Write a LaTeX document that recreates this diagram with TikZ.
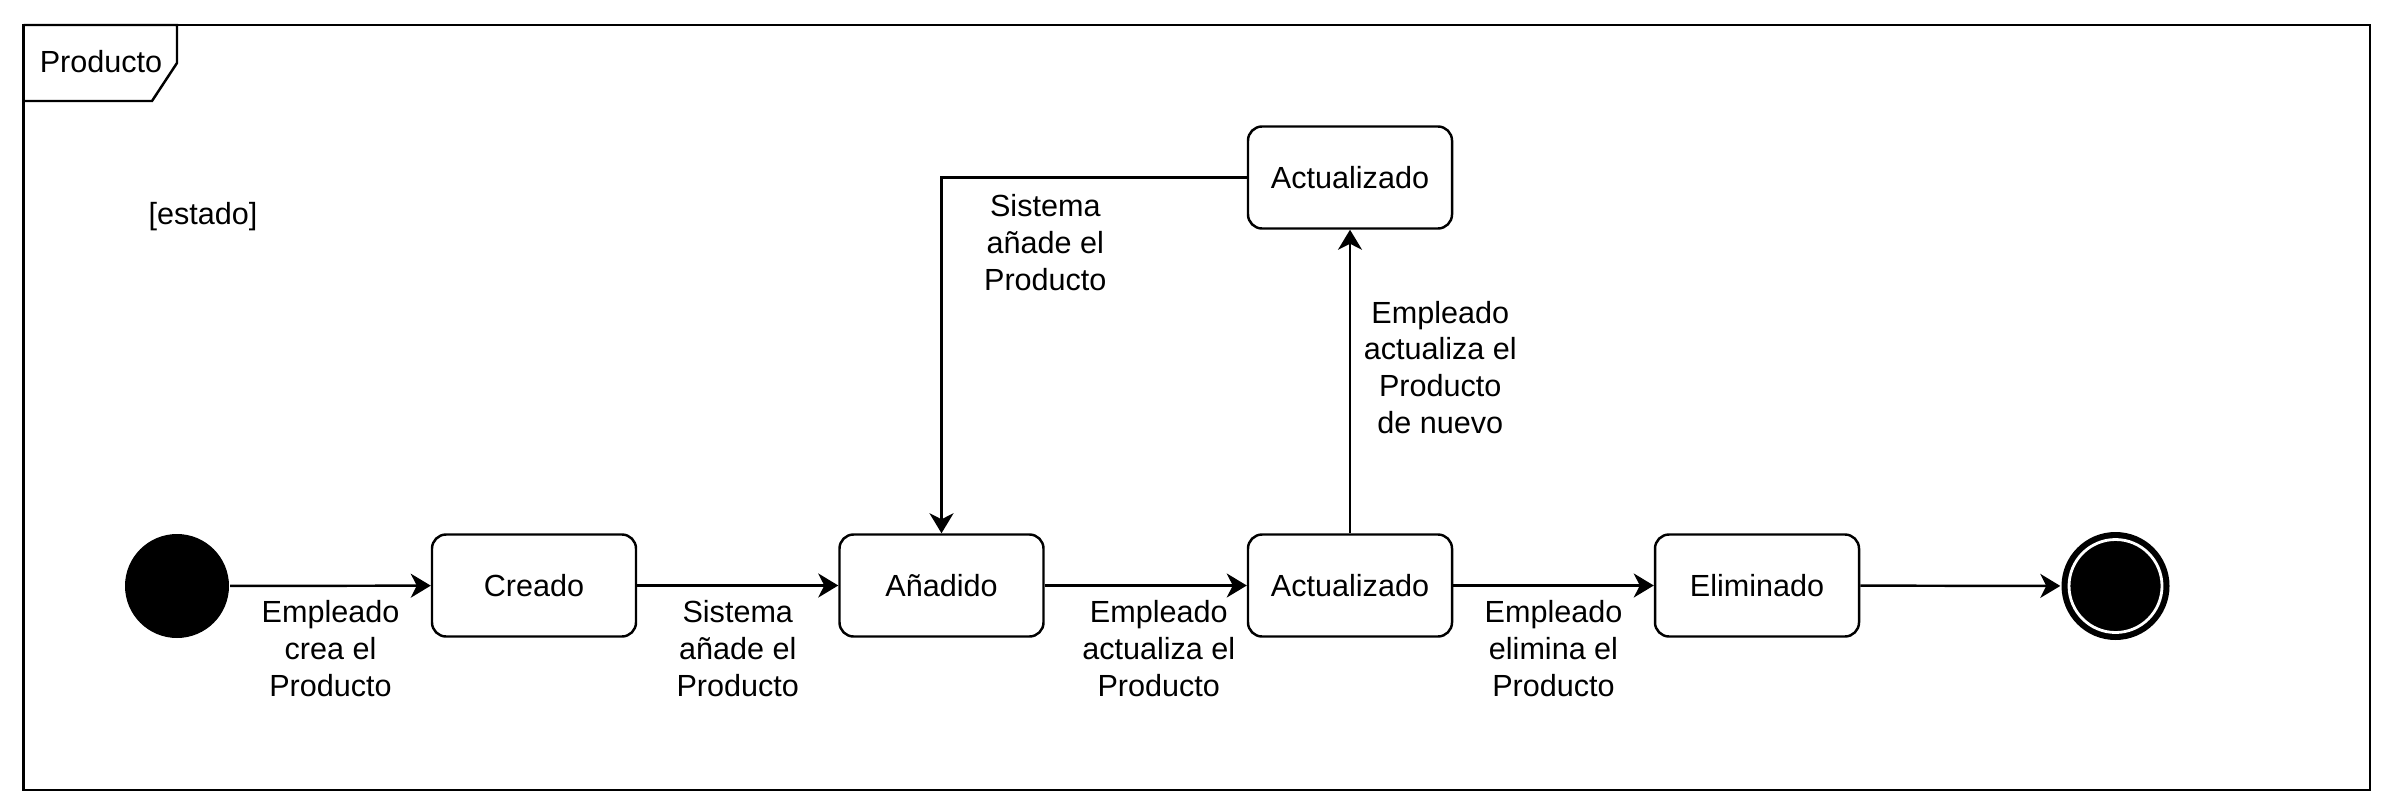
\documentclass[tikz,border=0pt]{standalone}
\usepackage{fontspec}
\setmainfont{Liberation Sans}
\usetikzlibrary{arrows.meta}

\begin{document}
\begin{tikzpicture}[
    font=\fontsize{8.7}{10.5}\selectfont,
    line width=0.7pt,
    estado/.style={draw, rounded corners=4pt, align=center, minimum width=20.4mm, minimum height=10.2mm, inner sep=0pt},
    inicio/.style={circle, fill=black, minimum size=10.4mm, inner sep=0pt},
    final/.style={circle, fill=black, minimum size=10.8mm, inner sep=0pt,
        path picture={\draw[white, line width=0.8pt] (path picture bounding box.center) circle (4.65mm);}},
    lbl/.style={align=center, inner sep=1pt},
    >={Stealth[length=2mm, width=2.4mm, inset=0.6mm]}]

    \useasboundingbox (0,0) rectangle (23.99,-8.11);

    % marco del diagrama
    \draw (0.235,-0.25) rectangle (23.70,-7.90);
    \draw (0.235,-0.25) -- (1.77,-0.25) -- (1.77,-0.63) -- (1.52,-1.01) -- (0.235,-1.01);
    \node[lbl] (marco) at (1.01,-0.62) {Producto};
    \node[lbl] (guarda) at (2.03,-2.17) {[estado]};

    \node[inicio] (ini) at (1.77,-5.86) {};
    \node[estado] (creado) at (5.34,-5.855) {Creado};
    \node[estado] (anadido) at (9.415,-5.855) {Añadido};
    \node[estado] (act) at (13.50,-5.855) {Actualizado};
    \node[estado] (elim) at (17.57,-5.855) {Eliminado};
    \node[final] (fin) at (21.155,-5.86) {};
    \node[estado] (act2) at (13.50,-1.775) {Actualizado};

    \draw[->] (ini) -- node[lbl, below=1mm] (t1) {Empleado\\crea el\\Producto} (creado);
    \draw[->] (creado) -- node[lbl, below=1mm] (t2) {Sistema\\añade el\\Producto} (anadido);
    \draw[->] (anadido) -- node[lbl, below=1mm, xshift=1.3mm] (t3) {Empleado\\actualiza el\\Producto} (act);
    \draw[->] (act) -- node[lbl, below=1mm] (t4) {Empleado\\elimina el\\Producto} (elim);
    \draw[->] (elim) -- (fin);

    \draw[->] (act.north) -- node[lbl, right=0.9mm, yshift=1.4mm] (t5) {Empleado\\actualiza el\\Producto\\de nuevo} (act2.south);
    \draw[->] (act2.west) -| node[lbl, below=1.2mm, pos=0.33] (t6) {Sistema\\añade el\\Producto} (anadido.north);
\end{tikzpicture}
\end{document}
